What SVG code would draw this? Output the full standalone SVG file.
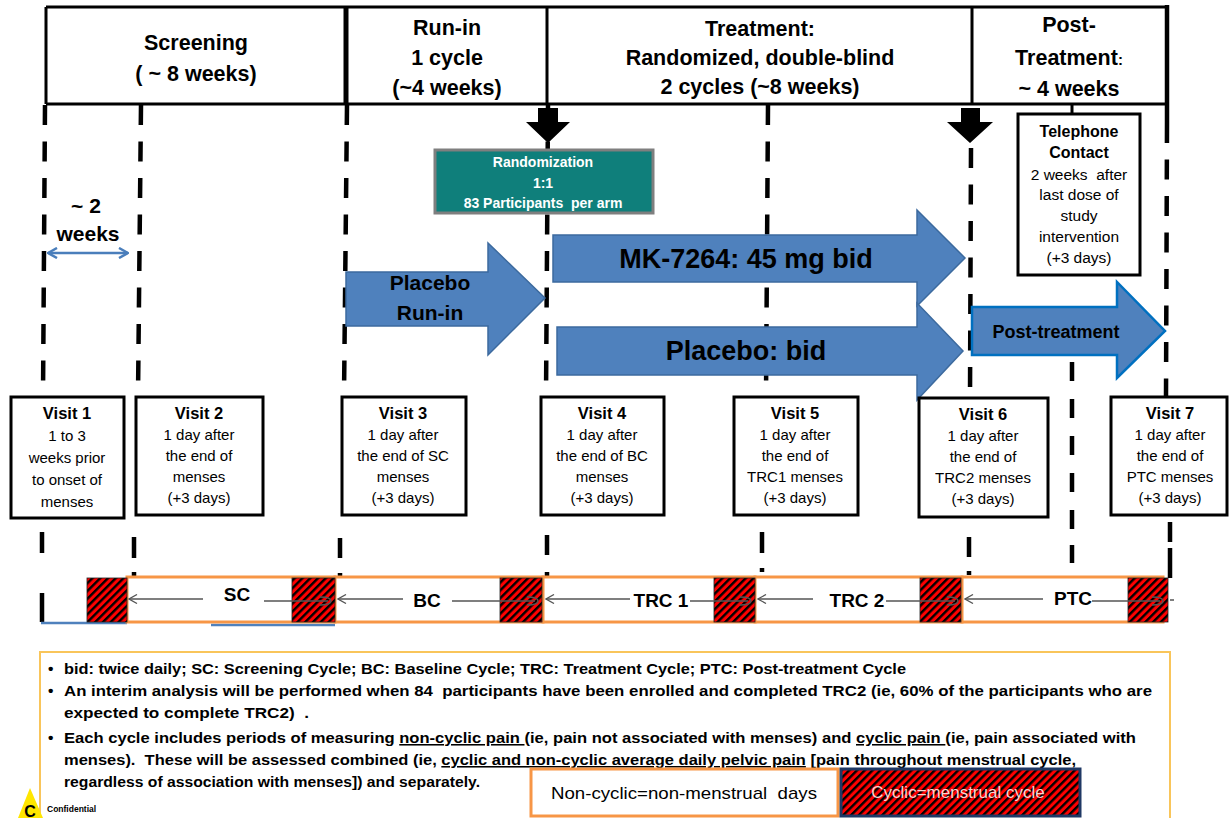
<svg xmlns="http://www.w3.org/2000/svg" width="1230" height="818" viewBox="0 0 1230 818">
<defs>
<style>
text{font-family:"Liberation Sans",Arial,sans-serif;fill:#000}
.h{font-size:21.5px;font-weight:bold;text-anchor:middle}
.hb{fill:none;stroke:#000;stroke-width:3}
.dl{fill:none;stroke:#000;stroke-width:4.5;stroke-dasharray:20 16.5}
.sl{fill:none;stroke:#000;stroke-width:4.5}
.vb{fill:#fff;stroke:#000;stroke-width:3}
.vt{font-size:16.5px;font-weight:bold;text-anchor:middle}
.vs{font-size:15px;text-anchor:middle}
.ar{fill:#4F81BD;stroke:#3C6A9E;stroke-width:1.5}
.at{font-weight:bold;text-anchor:middle}
.ob{fill:#fff;stroke:#F79646;stroke-width:3}
.hs{fill:url(#hatch);stroke:#222;stroke-width:0.8}
.ga{stroke:#555;stroke-width:1.5;fill:none}
.cl{font-size:19px;font-weight:bold;text-anchor:middle}
.nt{font-size:15.5px;font-weight:bold}
.rt{font-size:14px;font-weight:bold;text-anchor:middle;fill:#fff}
.tt{font-size:15.5px;text-anchor:middle}
.u{text-decoration:underline}
</style>
<pattern id="hatch" patternUnits="userSpaceOnUse" width="5.5" height="5.5" patternTransform="rotate(45)">
<rect width="5.5" height="5.5" fill="#FF0000"/>
<line x1="1.2" y1="0" x2="1.2" y2="5.5" stroke="#000" stroke-width="2.4"/>
</pattern>
<marker id="chev" viewBox="0 0 10 10" refX="9" refY="5" markerWidth="10" markerHeight="10" markerUnits="userSpaceOnUse" orient="auto">
<path d="M1,0.5 L9,5 L1,9.5" fill="none" stroke="#555" stroke-width="1.3"/>
</marker>
<marker id="bchev" viewBox="0 0 12 12" refX="11" refY="6" markerWidth="12" markerHeight="12" markerUnits="userSpaceOnUse" orient="auto-start-reverse">
<path d="M2,1 L11,6 L2,11" fill="none" stroke="#4A7EBB" stroke-width="2.5"/>
</marker>
</defs>

<rect width="1230" height="818" fill="#fff"/>

<!-- Header -->
<g id="header">
<path class="hb" d="M46,7 L1167,7 M46,104 L1167,104 M46,7 L46,104 M547,7 L547,104 M972,7 L972,104"/>
<path d="M346,7 L346,104" stroke="#000" stroke-width="5"/>
<g id="hdr-screening">
<text class="h" x="196" y="50">Screening</text>
<text class="h" x="196" y="81">( ~ 8 weeks)</text>
</g>
<g id="hdr-runin">
<text class="h" x="447" y="35">Run-in</text>
<text class="h" x="447" y="65">1 cycle</text>
<text class="h" x="447" y="95">(~4 weeks)</text>
</g>
<g id="hdr-treatment">
<text class="h" x="760" y="36">Treatment:</text>
<text class="h" x="760" y="65">Randomized, double-blind</text>
<text class="h" x="760" y="94">2 cycles (~8 weeks)</text>
</g>
<g id="hdr-post">
<text class="h" x="1069" y="32">Post-</text>
<text class="h" x="1069" y="65">Treatment<tspan font-size="15px">:</tspan></text>
<text class="h" x="1069" y="96">~ 4 weeks</text>
</g>
</g>

<!-- Connectors -->
<g id="connectors">
<path class="dl" d="M45,105 L43,397"/>
<path class="dl" d="M141,105 L138,397"/>
<path class="dl" d="M347,105 L344,397"/>
<path class="dl" d="M548,105 L546,397"/>
<path class="dl" d="M768,105 L766,397"/>
<path class="dl" d="M971,148 L970,397"/>
<path class="sl" d="M1167,5 L1167,123"/>
<path class="dl" d="M1167,123 L1166,397"/>
<path class="dl" style="stroke-dasharray:19 18" d="M1072,362 L1072,545"/>
<path class="sl" d="M1072,545 L1072,563"/>
<path d="M1072,104 L1072,114" stroke="#000" stroke-width="3"/>
<!-- below visits -->
<path class="sl" d="M42,532 L42,553 M42,593 L42,622"/>
<path class="sl" d="M134,537 L134,558 M134,572 L134,577"/>
<path class="sl" d="M340,538 L340,558 M340,573 L340,577"/>
<path class="sl" d="M547,535 L547,555 M547,572 L547,576"/>
<path class="sl" d="M762,532 L762,553 M762,568 L762,572"/>
<path class="sl" d="M969,537 L969,557 M969,571 L969,575"/>
<path class="sl" d="M1170,522 L1170,542 M1170,548 L1170,578"/>
<!-- blue base lines -->
<path d="M41,623 L127,623 M211,625 L335,625" stroke="#4F81BD" stroke-width="2.5"/>
<!-- black down arrows -->
<polygon points="538,108 558,108 558,122 570,122 548,143 526,122 538,122" fill="#000"/>
<polygon points="961,108 980,108 980,122 993,122 970,143 947,122 961,122" fill="#000"/>
<!-- 2 weeks double arrow -->
<path d="M48,253 L128,253" stroke="#4A7EBB" stroke-width="2.5" marker-start="url(#bchev)" marker-end="url(#bchev)"/>
</g>

<g id="two-weeks">
<text x="86" y="213" font-size="21" font-weight="bold" text-anchor="middle">~ 2</text>
<text x="88" y="241" font-size="21" font-weight="bold" text-anchor="middle">weeks</text>
</g>

<g id="randomization">
<rect x="435" y="150" width="218" height="63" fill="#0F7F7B" stroke="#7F7F7F" stroke-width="3"/>
<text class="rt" x="543" y="167">Randomization</text>
<text class="rt" x="543" y="188">1:1</text>
<text class="rt" x="543" y="208" xml:space="preserve">83 Participants  per arm</text>
</g>

<g id="telephone">
<rect class="vb" x="1018" y="114" width="122" height="161"/>
<text x="1079" y="137" font-size="16" font-weight="bold" text-anchor="middle">Telephone</text>
<text x="1079" y="158" font-size="16" font-weight="bold" text-anchor="middle">Contact</text>
<text class="tt" x="1079" y="180" xml:space="preserve">2 weeks  after</text>
<text class="tt" x="1079" y="200">last dose of</text>
<text class="tt" x="1079" y="221">study</text>
<text class="tt" x="1079" y="242">intervention</text>
<text class="tt" x="1079" y="263">(+3 days)</text>
</g>

<g id="arrow-placebo-runin">
<polygon class="ar" points="346,272 488,272 488,243 545,298 488,355 488,326 346,326"/>
<text class="at" x="430" y="290" font-size="21">Placebo</text>
<text class="at" x="430" y="320" font-size="21">Run-in</text>
</g>

<g id="arrow-mk">
<polygon class="ar" points="553,235 917,235 917,210 965,258 917,306 917,282 553,282"/>
<text class="at" x="746" y="268" font-size="27">MK-7264: 45 mg bid</text>
</g>

<g id="arrow-placebo">
<polygon class="ar" points="557,327 917,327 917,303 963,351 917,400 917,375 557,375"/>
<text class="at" x="746" y="360" font-size="27">Placebo: bid</text>
</g>

<g id="arrow-post">
<polygon points="972,307 1117,307 1117,282 1165,331 1117,378 1117,355 972,355" fill="#4F81BD" stroke="#0070C0" stroke-width="2.5"/>
<text class="at" x="1056" y="338" font-size="18">Post-treatment</text>
</g>

<g id="visit1">
<rect class="vb" x="11" y="397" width="113" height="121"/>
<text class="vt" x="67" y="419">Visit 1</text>
<text class="vs" x="67" y="441">1 to 3</text>
<text class="vs" x="67" y="463">weeks prior</text>
<text class="vs" x="67" y="485">to onset of</text>
<text class="vs" x="67" y="507">menses</text>
</g>
<g id="visit2">
<rect class="vb" x="136" y="397" width="127" height="118"/>
<text class="vt" x="199" y="419">Visit 2</text>
<text class="vs" x="199" y="440">1 day after</text>
<text class="vs" x="199" y="461">the end of</text>
<text class="vs" x="199" y="482">menses</text>
<text class="vs" x="199" y="503">(+3 days)</text>
</g>
<g id="visit3">
<rect class="vb" x="342" y="397" width="124" height="118"/>
<text class="vt" x="403" y="419">Visit 3</text>
<text class="vs" x="403" y="440">1 day after</text>
<text class="vs" x="403" y="461">the end of SC</text>
<text class="vs" x="403" y="482">menses</text>
<text class="vs" x="403" y="503">(+3 days)</text>
</g>
<g id="visit4">
<rect class="vb" x="541" y="397" width="123" height="118"/>
<text class="vt" x="602" y="419">Visit 4</text>
<text class="vs" x="602" y="440">1 day after</text>
<text class="vs" x="602" y="461">the end of BC</text>
<text class="vs" x="602" y="482">menses</text>
<text class="vs" x="602" y="503">(+3 days)</text>
</g>
<g id="visit5">
<rect class="vb" x="734" y="397" width="124" height="118"/>
<text class="vt" x="795" y="419">Visit 5</text>
<text class="vs" x="795" y="440">1 day after</text>
<text class="vs" x="795" y="461">the end of</text>
<text class="vs" x="795" y="482">TRC1 menses</text>
<text class="vs" x="795" y="503">(+3 days)</text>
</g>
<g id="visit6">
<rect class="vb" x="919" y="398" width="129" height="119"/>
<text class="vt" x="983" y="420">Visit 6</text>
<text class="vs" x="983" y="441">1 day after</text>
<text class="vs" x="983" y="462">the end of</text>
<text class="vs" x="983" y="483">TRC2 menses</text>
<text class="vs" x="983" y="504">(+3 days)</text>
</g>
<g id="visit7">
<rect class="vb" x="1111" y="397" width="116" height="118"/>
<text class="vt" x="1170" y="419">Visit 7</text>
<text class="vs" x="1170" y="440">1 day after</text>
<text class="vs" x="1170" y="461">the end of</text>
<text class="vs" x="1170" y="482">PTC menses</text>
<text class="vs" x="1170" y="503">(+3 days)</text>
</g>

<g id="cycles">
<rect class="ob" x="127" y="577" width="208" height="45"/>
<rect class="ob" x="335" y="577" width="208" height="45"/>
<rect class="ob" x="543" y="577" width="212" height="45"/>
<rect class="ob" x="755" y="577" width="207" height="45"/>
<rect class="ob" x="962" y="577" width="201" height="45"/>
<rect class="hs" x="87" y="578" width="40" height="44"/>
<rect class="hs" x="292" y="578" width="43" height="44"/>
<rect class="hs" x="500" y="578" width="42" height="44"/>
<rect class="hs" x="714" y="578" width="41" height="44"/>
<rect class="hs" x="920" y="578" width="41" height="44"/>
<rect class="hs" x="1128" y="578" width="40" height="44"/>
<g id="cycle-arrows">
<line class="ga" x1="203" y1="599" x2="129" y2="599" marker-end="url(#chev)"/>
<path class="ga" d="M264,601 L328,601 M320,597 Q331,597 331,601 Q331,605 320,605"/>
<line class="ga" x1="403" y1="599" x2="338" y2="599" marker-end="url(#chev)"/>
<path class="ga" d="M452,601 L535,601 M527,597 Q538,597 538,601 Q538,605 527,605"/>
<line class="ga" x1="630" y1="599" x2="546" y2="599" marker-end="url(#chev)"/>
<path class="ga" d="M690,601 L748,601 M740,597 Q751,597 751,601 Q751,605 740,605"/>
<line class="ga" x1="813" y1="599" x2="758" y2="599" marker-end="url(#chev)"/>
<path class="ga" d="M886,601 L955,601 M947,597 Q958,597 958,601 Q958,605 947,605"/>
<line class="ga" x1="1043" y1="599" x2="965" y2="599" marker-end="url(#chev)"/>
<path class="ga" d="M1092,601 L1160,601 M1152,597 Q1163,597 1163,601 Q1163,605 1152,605 M1170,600 L1174,600"/>
</g>
<text class="cl" x="237" y="601">SC</text>
<text class="cl" x="427" y="607">BC</text>
<text class="cl" x="661" y="607">TRC 1</text>
<text class="cl" x="857" y="607">TRC 2</text>
<text class="cl" x="1073" y="605">PTC</text>
</g>

<g id="notes">
<rect x="40" y="652" width="1130" height="180" fill="none" stroke="#F9C55A" stroke-width="2"/>
<text class="nt" x="48" y="674">•</text>
<text class="nt" x="48" y="696">•</text>
<text class="nt" x="48" y="743">•</text>
<text class="nt" x="64" y="674" textLength="842" lengthAdjust="spacingAndGlyphs">bid: twice daily; SC: Screening Cycle; BC: Baseline Cycle; TRC: Treatment Cycle; PTC: Post-treatment Cycle</text>
<text class="nt" x="64" y="696" textLength="1088" lengthAdjust="spacingAndGlyphs" xml:space="preserve">An interim analysis will be performed when 84  participants have been enrolled and completed TRC2 (ie, 60% of the participants who are</text>
<text class="nt" x="64" y="718" textLength="245" lengthAdjust="spacingAndGlyphs" xml:space="preserve">expected to complete TRC2)  .</text>
<text class="nt" x="64" y="743" textLength="1072" lengthAdjust="spacingAndGlyphs">Each cycle includes periods of measuring <tspan class="u">non-cyclic pain </tspan>(ie, pain not associated with menses) and <tspan class="u">cyclic pain </tspan>(ie, pain associated with</text>
<text class="nt" x="64" y="765" textLength="1012" lengthAdjust="spacingAndGlyphs" xml:space="preserve">menses).  These will be assessed combined (ie, <tspan class="u">cyclic and non-cyclic average daily pelvic pain</tspan> [pain throughout menstrual cycle,</text>
<text class="nt" x="64" y="787" textLength="416" lengthAdjust="spacingAndGlyphs">regardless of association with menses]) and separately.</text>
</g>

<g id="legend-noncyclic">
<rect x="531" y="769" width="307" height="47" fill="#fff" stroke="#F79646" stroke-width="3"/>
<text x="684" y="799" font-size="17" text-anchor="middle" textLength="266" lengthAdjust="spacingAndGlyphs" xml:space="preserve">Non-cyclic=non-menstrual  days</text>
</g>
<g id="legend-cyclic">
<rect x="841" y="769" width="239" height="47" fill="url(#hatch)" stroke="#1F3864" stroke-width="3"/>
<text x="958" y="798" font-size="17" text-anchor="middle" style="fill:#F8D4D0">Cyclic=menstrual cycle</text>
</g>

<g id="confidential">
<polygon points="18,818 30,788 43,818" fill="#FFE600"/>
<text x="30" y="817" font-size="16" font-weight="bold" text-anchor="middle">C</text>
<text x="47" y="812" font-size="8.5" font-weight="bold">Confidential</text>
</g>
</svg>
